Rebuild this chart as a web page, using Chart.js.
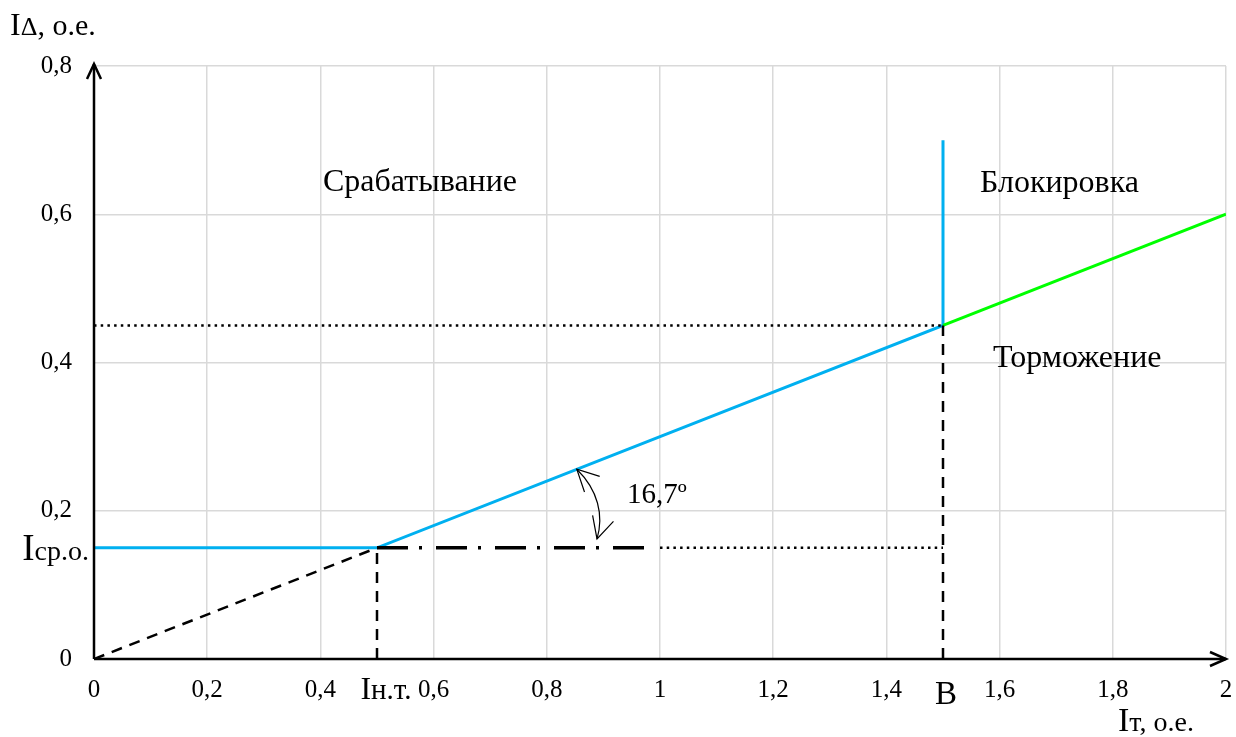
<!DOCTYPE html>
<html>
<head>
<meta charset="utf-8">
<script src="https://cdn.jsdelivr.net/npm/chart.js@4"></script>
<style>
  html, body { margin: 0; padding: 0; background: #fff; }
  #wrap { width: 1236px; height: 737px; position: relative; }
</style>
</head>
<body>
<div id="wrap"><canvas id="chart"></canvas></div>
<script>
// axis ticks
const xTicks = [0, 0.2, 0.4, 0.6, 0.8, 1, 1.2, 1.4, 1.6, 1.8, 2];
const xTickLabels = ['0', '0,2', '0,4', '0,6', '0,8', '1', '1,2', '1,4', '1,6', '1,8', '2'];
const yTicks = [0, 0.2, 0.4, 0.6, 0.8];
const yTickLabels = ['0', '0,2', '0,4', '0,6', '0,8'];

// characteristic (operate boundary), blue
const operateX = [0, 0.5, 1.5, 1.5];
const operateY = [0.15, 0.15, 0.45, 0.7];
// restraint branch, green
const restraintX = [1.5, 2];
const restraintY = [0.45, 0.6];
// helper lines
const originX = [0, 0.5];
const originY = [0, 0.15];
const dropNtX = [0.5, 0.5];
const dropNtY = [0, 0.15];
const dropBX = [1.5, 1.5];
const dropBY = [0, 0.45];
const levelBX = [0, 1.5];
const levelBY = [0.45, 0.45];
const baseDashX = [0.5, 0.99];
const baseDashY = [0.15, 0.15];
const baseDotX = [1.0, 1.5];
const baseDotY = [0.15, 0.15];

// angle mark (bezier from slope down to base line)
const angleArcX = [0.853, 0.8905, 0.901, 0.8887];
const angleArcY = [0.256, 0.228, 0.194, 0.162];

const FONT = '"Liberation Serif", "Times New Roman", serif';

const pts = (xs, ys) => xs.map((x, i) => ({ x: x, y: ys[i] }));

function lineSet(xs, ys, color, width, dash) {
    return {
        data: pts(xs, ys),
        showLine: true,
        borderColor: color,
        borderWidth: width,
        borderDash: dash || [],
        pointRadius: 0,
        fill: false,
        tension: 0
    };
}

const overlay = {
    id: 'overlay',
    afterDraw(chart) {
        const ctx = chart.ctx;
        const xs = chart.scales.x, ys = chart.scales.y;
        const X = v => xs.getPixelForValue(v);
        const Y = v => ys.getPixelForValue(v);
        const area = chart.chartArea;

        ctx.save();
        // axes with arrows
        ctx.strokeStyle = '#000';
        ctx.lineWidth = 2.5;
        ctx.beginPath();
        ctx.moveTo(area.left, area.bottom);
        ctx.lineTo(area.left, area.top - 2);
        ctx.moveTo(area.left, area.bottom);
        ctx.lineTo(area.right, area.bottom);
        ctx.stroke();
        ctx.beginPath();
        ctx.moveTo(area.left - 7, area.top + 13);
        ctx.lineTo(area.left, area.top - 2);
        ctx.lineTo(area.left + 7, area.top + 13);
        ctx.moveTo(area.right - 16, area.bottom - 7);
        ctx.lineTo(area.right, area.bottom);
        ctx.lineTo(area.right - 16, area.bottom + 7);
        ctx.stroke();

        // angle arc with arrowheads
        const p = angleArcX.map((v, i) => [X(v), Y(angleArcY[i])]);
        ctx.lineWidth = 1.2;
        ctx.beginPath();
        ctx.moveTo(p[0][0], p[0][1]);
        ctx.bezierCurveTo(p[1][0], p[1][1], p[2][0], p[2][1], p[3][0], p[3][1]);
        ctx.stroke();
        const head = (tip, from) => {
            const a = Math.atan2(from[1] - tip[1], from[0] - tip[0]);
            ctx.beginPath();
            ctx.moveTo(tip[0] + 24 * Math.cos(a - 0.47), tip[1] + 24 * Math.sin(a - 0.47));
            ctx.lineTo(tip[0], tip[1]);
            ctx.lineTo(tip[0] + 24 * Math.cos(a + 0.47), tip[1] + 24 * Math.sin(a + 0.47));
            ctx.stroke();
        };
        head(p[0], p[1]);
        head(p[3], p[2]);

        // texts
        ctx.fillStyle = '#000';
        ctx.textBaseline = 'alphabetic';
        ctx.textAlign = 'left';
        ctx.font = '32px ' + FONT;
        ctx.fillText('Срабатывание', 323, 191);
        ctx.fillText('Блокировка', 980, 192);
        ctx.fillText('Торможение', 993, 367);
        ctx.font = '29px ' + FONT;
        ctx.fillText('16,7º', 627, 503);

        // y axis title
        ctx.font = '32px ' + FONT;
        ctx.fillText('I', 10, 35);
        let w = ctx.measureText('I').width;
        ctx.font = '26px ' + FONT;
        ctx.fillText('Δ', 10 + w, 35);
        w += ctx.measureText('Δ').width;
        ctx.font = '30px ' + FONT;
        ctx.fillText(', o.e.', 10 + w, 35);

        // x axis title
        ctx.font = '34px ' + FONT;
        ctx.fillText('I', 1118, 731);
        w = ctx.measureText('I').width;
        ctx.font = '28px ' + FONT;
        ctx.fillText('т, o.e.', 1118 + w, 731);

        // special tick labels
        const mixed = (big, small, bigSize, smallSize, x, y, align) => {
            ctx.font = bigSize + 'px ' + FONT;
            const wb = ctx.measureText(big).width;
            ctx.font = smallSize + 'px ' + FONT;
            const ws = ctx.measureText(small).width;
            let x0 = align === 'right' ? x - wb - ws : x - (wb + ws) / 2;
            ctx.font = bigSize + 'px ' + FONT;
            ctx.fillText(big, x0, y);
            ctx.font = smallSize + 'px ' + FONT;
            ctx.fillText(small, x0 + wb, y);
        };
        mixed('I', 'ср.о.', 37, 28, 89, Y(0.15) + 12, 'right');
        mixed('I', 'н.т.', 32, 29, X(0.5) + 9, 699, 'center');
        ctx.font = '33px ' + FONT;
        ctx.textAlign = 'center';
        ctx.fillText('B', X(1.5) + 3, 704);
        ctx.restore();
    }
};

new Chart(document.getElementById('chart'), {
    type: 'scatter',
    data: {
        datasets: [
            lineSet(originX, originY, '#000', 2.5, [11, 8]),
            lineSet(dropNtX, dropNtY, '#000', 2.5, [11, 8]),
            lineSet(dropBX, dropBY, '#000', 2.5, [11, 8]),
            lineSet(levelBX, levelBY, '#000', 2.5, [2.5, 4.2]),
            lineSet(baseDashX, baseDashY, '#000', 3.5, [31, 11, 3, 14]),
            lineSet(baseDotX, baseDotY, '#000', 2.5, [2.5, 4.2]),
            lineSet(restraintX, restraintY, '#00ff00', 3),
            lineSet(operateX, operateY, '#00b0f0', 3)
        ]
    },
    options: {
        responsive: true,
        maintainAspectRatio: false,
        animation: false,
        layout: { padding: { left: 0, top: 66, right: 10, bottom: 0 } },
        plugins: {
            legend: { display: false },
            tooltip: { enabled: false }
        },
        scales: {
            x: {
                type: 'linear',
                min: 0,
                max: 2,
                afterBuildTicks: s => { s.ticks = xTicks.map(v => ({ value: v })); },
                afterFit: s => { s.height = 78; s.paddingRight = 0; },
                border: { display: false },
                grid: { color: '#d9d9d9', lineWidth: 1.5, drawTicks: false },
                ticks: {
                    padding: 16,
                    color: '#000',
                    font: { family: FONT, size: 25 },
                    maxRotation: 0,
                    autoSkip: false,
                    callback: (v, i) => xTickLabels[i]
                }
            },
            y: {
                type: 'linear',
                min: 0,
                max: 0.8,
                afterBuildTicks: s => { s.ticks = yTicks.map(v => ({ value: v })); },
                afterFit: s => { s.width = 94; },
                border: { display: false },
                grid: { color: '#d9d9d9', lineWidth: 1.5, drawTicks: false },
                ticks: {
                    padding: 22,
                    color: '#000',
                    font: { family: FONT, size: 25 },
                    autoSkip: false,
                    callback: (v, i) => yTickLabels[i]
                }
            }
        }
    },
    plugins: [overlay]
});
</script>
</body>
</html>
